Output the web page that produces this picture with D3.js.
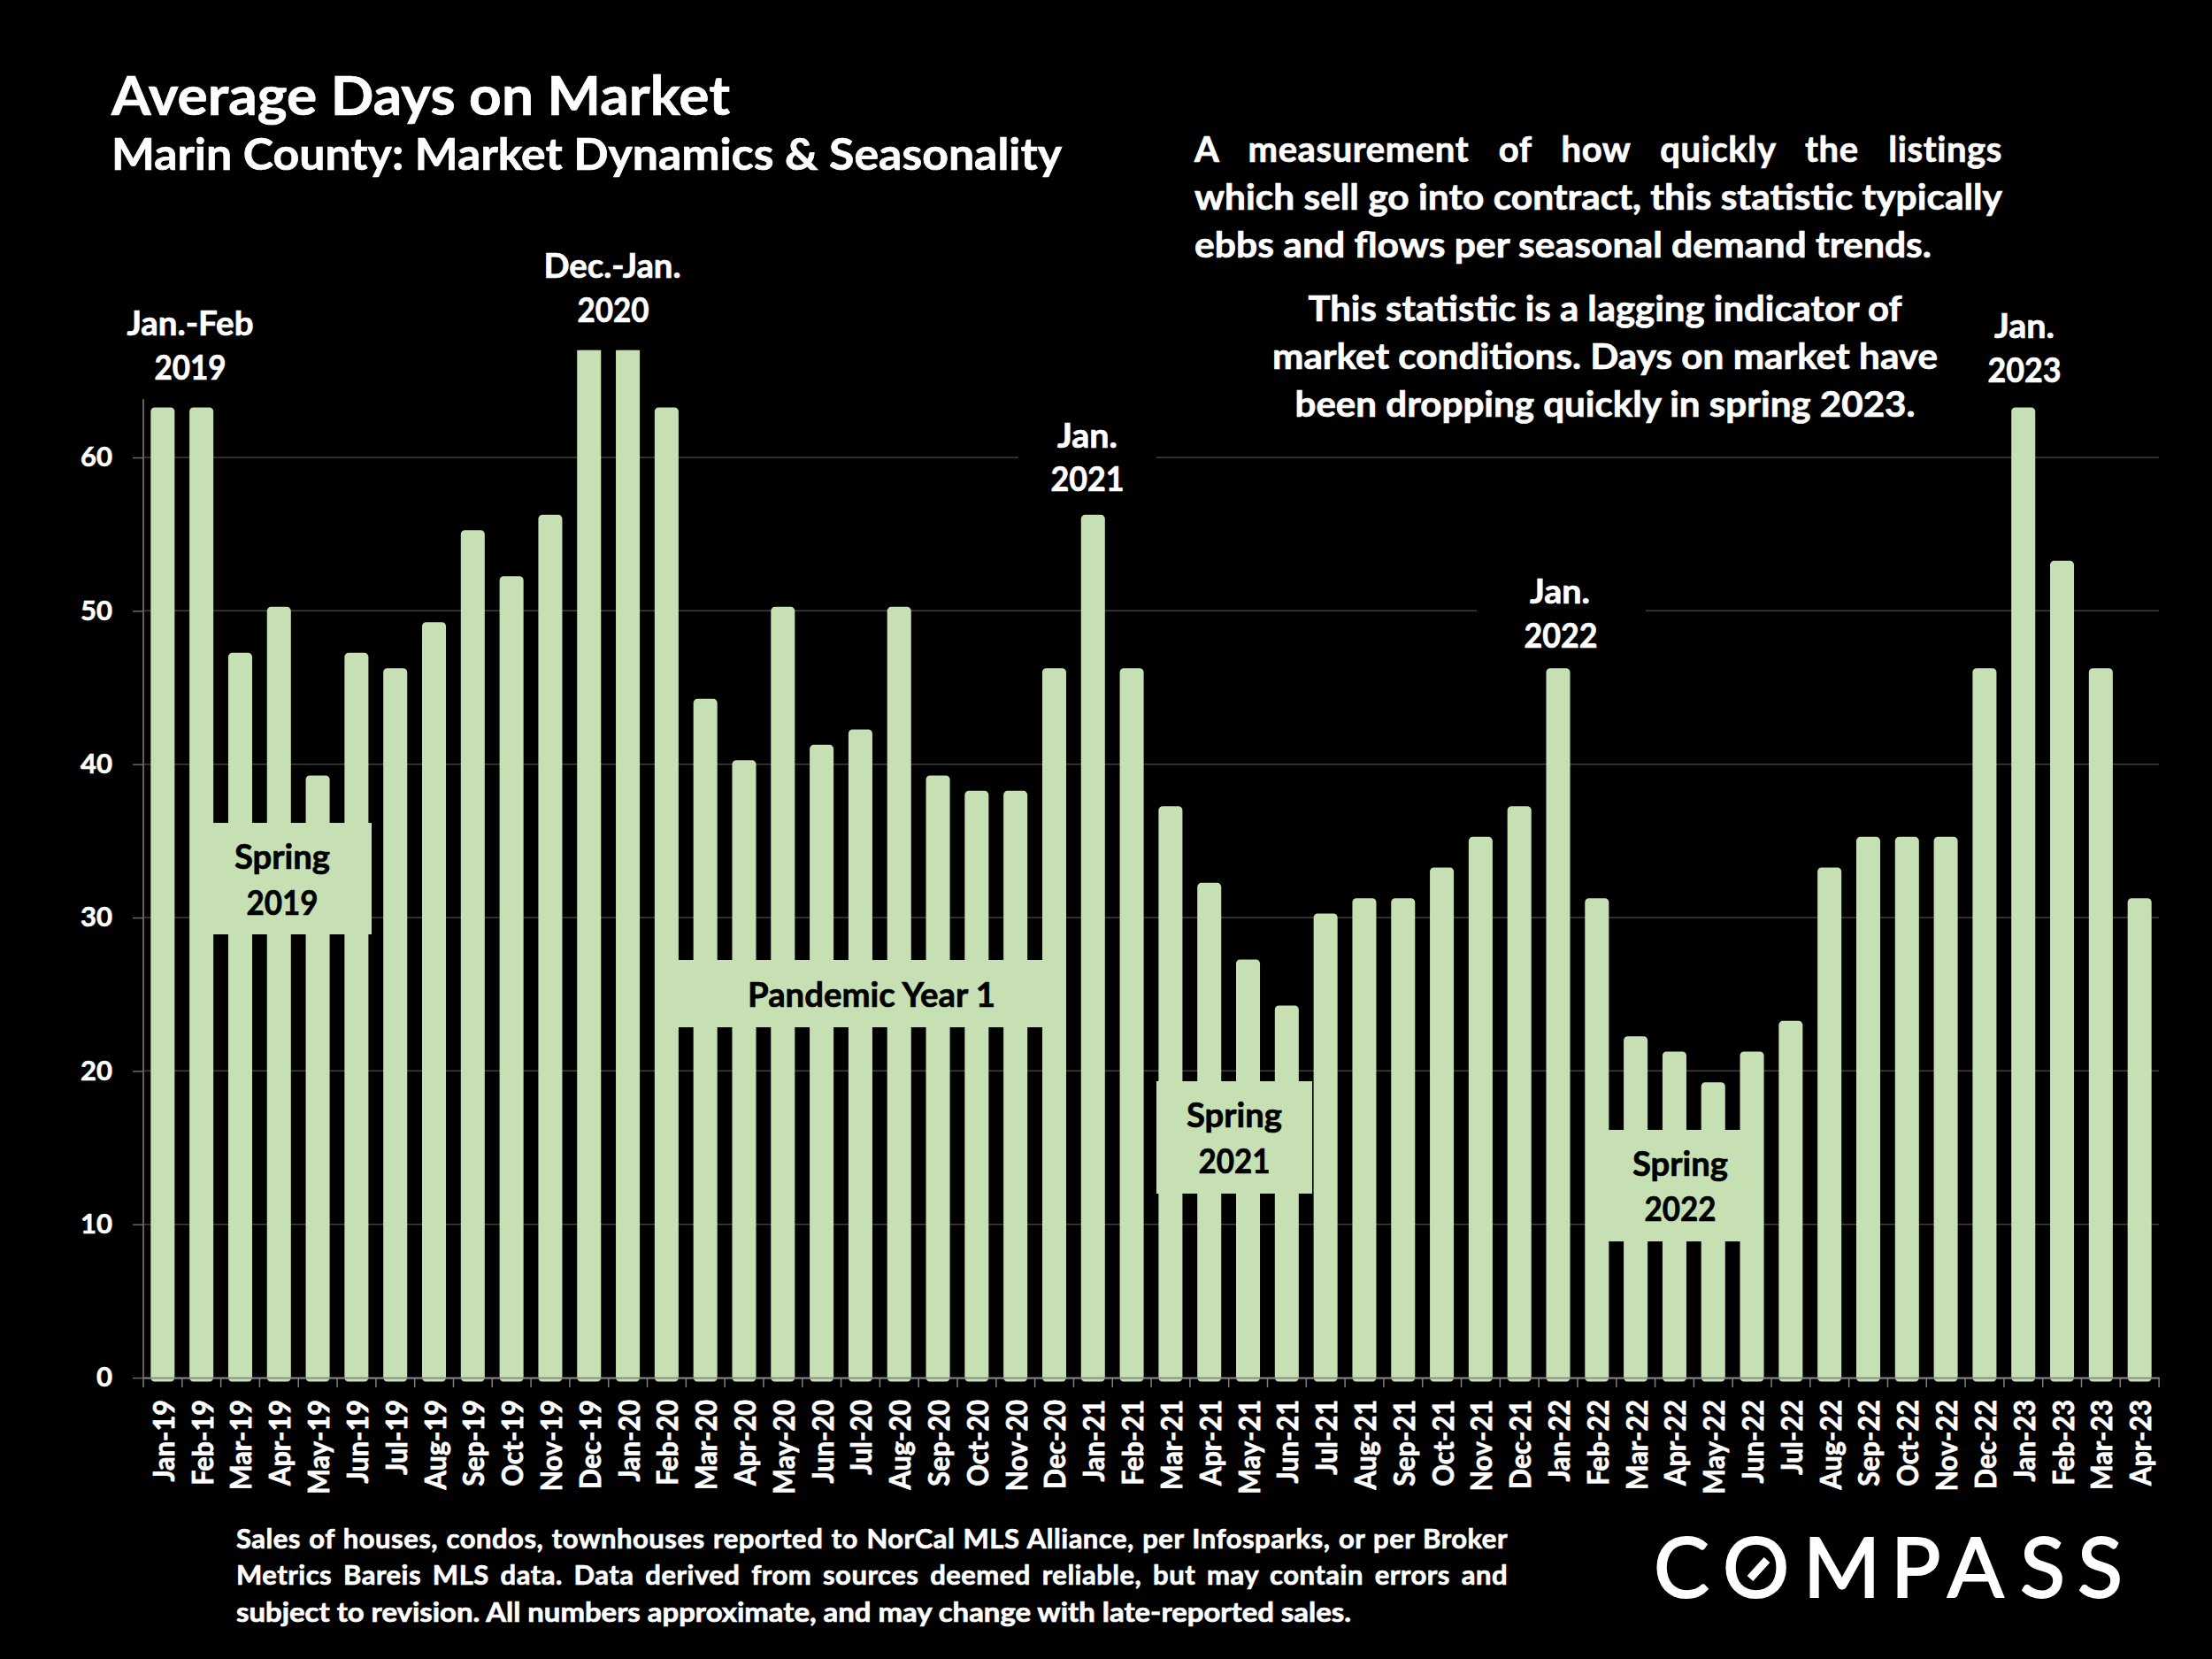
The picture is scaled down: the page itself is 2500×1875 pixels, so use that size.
<!DOCTYPE html>
<html>
<head>
<meta charset="utf-8">
<script src="https://cdn.jsdelivr.net/npm/d3@7"></script>
<style>
  html, body { margin: 0; padding: 0; background: #000; }
  svg text { font-family: Lato, sans-serif; font-weight: 700; }
</style>
</head>
<body>
<svg id="chart" width="2500" height="1875"></svg>
<script>
const months = [
  'Jan-19','Feb-19','Mar-19','Apr-19','May-19','Jun-19','Jul-19','Aug-19','Sep-19','Oct-19','Nov-19','Dec-19',
  'Jan-20','Feb-20','Mar-20','Apr-20','May-20','Jun-20','Jul-20','Aug-20','Sep-20','Oct-20','Nov-20','Dec-20',
  'Jan-21','Feb-21','Mar-21','Apr-21','May-21','Jun-21','Jul-21','Aug-21','Sep-21','Oct-21','Nov-21','Dec-21',
  'Jan-22','Feb-22','Mar-22','Apr-22','May-22','Jun-22','Jul-22','Aug-22','Sep-22','Oct-22','Nov-22','Dec-22',
  'Jan-23','Feb-23','Mar-23','Apr-23'
];
const daysOnMarket = [
  63, 63, 47, 50, 39, 47, 46, 49, 55, 52, 56, 67,
  67, 63, 44, 40, 50, 41, 42, 50, 39, 38, 38, 46,
  56, 46, 37, 32, 27, 24, 30, 31, 31, 33, 35, 37,
  46, 31, 22, 21, 19, 21, 23, 33, 35, 35, 35, 46,
  63, 53, 46, 31
];
const yTicks = [0, 10, 20, 30, 40, 50, 60];

const barColor = '#c6e0b4';
const left = 162, right = 2440, baseY = 1557, y60 = 517;
const barStroke = 9;

const svg = d3.select('#chart');

const x = d3.scaleBand().domain(months).range([left, right]).paddingInner(0.383).paddingOuter(0.19);
const y = d3.scaleLinear().domain([0, 60]).range([baseY, y60]);
const axisTop = y(63.8);
const step = x.step();

// text helper: width stretches the glyphs, justify stretches only the word gaps
function label(parent, str, px, py, size, opts = {}) {
  const color = opts.fill || '#fff';
  const t = parent.append('text')
    .attr('x', px).attr('y', py + 1.5)
    .attr('font-size', size)
    .attr('fill', color)
    .attr('stroke', color)
    .attr('stroke-width', 0.7)
    .attr('text-anchor', opts.anchor || 'start')
    .text(str);
  if (opts.spacing) t.attr('letter-spacing', opts.spacing);
  if (opts.width) {
    if (opts.justify) {
      const natural = t.node().getComputedTextLength();
      const gaps = str.split(' ').length - 1;
      t.attr('word-spacing', (opts.width - natural) / gaps);
    } else {
      t.attr('textLength', opts.width).attr('lengthAdjust', 'spacingAndGlyphs');
    }
  }
  return t;
}

// gridlines
svg.append('g').selectAll('line')
  .data(yTicks.filter(d => d > 0))
  .join('line')
  .attr('x1', left).attr('x2', right)
  .attr('y1', d => y(d)).attr('y2', d => y(d))
  .attr('stroke', '#3f3f3f').attr('stroke-width', 1.5);

// black patches behind the Jan. 2021 / Jan. 2022 labels
[[1151, 480, 156, 80], [1669, 650, 191, 80]].forEach(r => {
  svg.append('rect').attr('x', r[0]).attr('y', r[1]).attr('width', r[2]).attr('height', r[3]).attr('fill', '#000');
});

// bars, clipped so the two tallest ones end flat
svg.append('clipPath').attr('id', 'barClip').append('rect')
  .attr('x', 0).attr('width', 2500)
  .attr('y', y(67)).attr('height', baseY + 10 - y(67));

svg.append('g').attr('clip-path', 'url(#barClip)')
  .selectAll('rect')
  .data(months)
  .join('rect')
  .attr('x', d => x(d) + barStroke / 2)
  .attr('width', x.bandwidth() - barStroke)
  .attr('y', (d, i) => y(daysOnMarket[i]))
  .attr('height', (d, i) => baseY - y(daysOnMarket[i]))
  .attr('fill', barColor)
  .attr('stroke', barColor)
  .attr('stroke-width', barStroke)
  .attr('stroke-linejoin', 'round');

// y axis
const yAxis = svg.append('g')
  .attr('transform', `translate(${left},0)`)
  .call(d3.axisLeft(y).tickValues(yTicks).tickSize(12).tickPadding(23).tickSizeOuter(0));
yAxis.select('.domain').attr('d', `M0,${axisTop}V${baseY}`).attr('stroke', '#7f7f7f').attr('stroke-width', 1.5);
yAxis.selectAll('.tick line').attr('stroke', '#6a6a6a').attr('stroke-width', 1.5);
yAxis.selectAll('.tick text').attr('fill', '#fff').attr('stroke', '#fff').attr('stroke-width', 0.6)
  .attr('font-size', 31).attr('font-family', 'Lato').attr('font-weight', 700);

// x axis, ticks sit on the band edges
const xAxis = svg.append('g')
  .attr('transform', `translate(0,${baseY})`)
  .call(d3.axisBottom(x).tickSize(0).tickSizeOuter(0));
xAxis.select('.domain').attr('stroke', '#8c8c8c').attr('stroke-width', 2);
xAxis.selectAll('.tick text')
  .attr('fill', '#fff').attr('stroke', '#fff').attr('stroke-width', 0.7)
  .attr('font-size', 33).attr('font-family', 'Lato').attr('font-weight', 700)
  .attr('text-anchor', 'end')
  .attr('transform', 'translate(13,25) rotate(-90) scale(0.93,1)')
  .attr('x', 0).attr('y', 0).attr('dy', 0);
svg.append('g').attr('transform', `translate(0,${baseY})`)
  .selectAll('line')
  .data(d3.range(months.length + 1))
  .join('line')
  .attr('x1', i => left + i * step).attr('x2', i => left + i * step)
  .attr('y1', 0).attr('y2', 11)
  .attr('stroke', '#7f7f7f').attr('stroke-width', 1.5);

// title
label(svg, 'Average Days on Market', 126, 128, 61, { width: 699 });
label(svg, 'Marin County: Market Dynamics & Seasonality', 126, 190, 49, { width: 1074 });

// description
const para = svg.append('g');
label(para, 'A measurement of how quickly the listings', 1350, 181, 40, { width: 913, justify: true, spacing: 0.6 });
label(para, 'which sell go into contract, this statistic typically', 1350, 235, 40, { width: 913 });
label(para, 'ebbs and flows per seasonal demand trends.', 1350, 289, 40, { width: 833 });
label(para, 'This statistic is a lagging indicator of', 1814, 361, 40, { anchor: 'middle', width: 671 });
label(para, 'market conditions. Days on market have', 1814, 415, 40, { anchor: 'middle', width: 752 });
label(para, 'been dropping quickly in spring 2023.', 1814, 469, 40, { anchor: 'middle', width: 701 });

// peak labels
const peaks = svg.append('g');
label(peaks, 'Jan.-Feb', 215, 377, 38, { anchor: 'middle', width: 143 });
label(peaks, '2019', 215, 427, 38, { anchor: 'middle', width: 81 });
label(peaks, 'Dec.-Jan.', 692, 312, 38, { anchor: 'middle', width: 155 });
label(peaks, '2020', 693, 362, 38, { anchor: 'middle', width: 81 });
label(peaks, 'Jan.', 1229, 504, 38, { anchor: 'middle', width: 68 });
label(peaks, '2021', 1229, 553, 38, { anchor: 'middle', width: 83 });
label(peaks, 'Jan.', 1763, 680, 38, { anchor: 'middle', width: 68 });
label(peaks, '2022', 1764, 730, 38, { anchor: 'middle', width: 83 });
label(peaks, 'Jan.', 2288, 380, 38, { anchor: 'middle', width: 68 });
label(peaks, '2023', 2288, 430, 38, { anchor: 'middle', width: 83 });

// green period boxes
function box(bx, by, bw, bh) {
  svg.append('rect').attr('x', bx).attr('y', by).attr('width', bw).attr('height', bh).attr('fill', barColor);
}
box(217, 930, 203, 126);
label(svg, 'Spring', 319, 980, 39, { anchor: 'middle', fill: '#000', width: 108 });
label(svg, '2019', 319, 1032, 39, { anchor: 'middle', fill: '#000', width: 81 });
box(745, 1085, 455, 76);
label(svg, 'Pandemic Year 1', 985, 1136, 39, { anchor: 'middle', fill: '#000', width: 280 });
box(1307, 1222, 176, 127);
label(svg, 'Spring', 1395, 1272, 39, { anchor: 'middle', fill: '#000', width: 108 });
label(svg, '2021', 1395, 1324, 39, { anchor: 'middle', fill: '#000', width: 81 });
box(1816, 1277, 177, 126);
label(svg, 'Spring', 1899, 1327, 39, { anchor: 'middle', fill: '#000', width: 108 });
label(svg, '2022', 1899, 1378, 39, { anchor: 'middle', fill: '#000', width: 81 });

// footer
const foot = svg.append('g');
label(foot, 'Sales of houses, condos, townhouses reported to NorCal MLS Alliance, per Infosparks, or per Broker', 267, 1748, 31, { width: 1437, justify: true, spacing: 0.5 });
label(foot, 'Metrics Bareis MLS data. Data derived from sources deemed reliable, but may contain errors and', 267, 1789, 31, { width: 1437, justify: true, spacing: 0.5 });
label(foot, 'subject to revision. All numbers approximate, and may change with late-reported sales.', 267, 1831, 31, { width: 1260 });

// logo
const logo = svg.append('g');
logo.append('text')
  .attr('x', '1869 1947 2038 2137 2201 2283 2348').attr('y', 1805)
  .attr('font-size', 94).attr('fill', '#fff').attr('stroke', '#fff').attr('stroke-width', 2)
  .style('font-weight', 400)
  .text('COMPASS');
logo.append('line')
  .attr('x1', 1978).attr('y1', 1784).attr('x2', 1997).attr('y2', 1763)
  .attr('stroke', '#fff').attr('stroke-width', 9);
</script>
</body>
</html>
